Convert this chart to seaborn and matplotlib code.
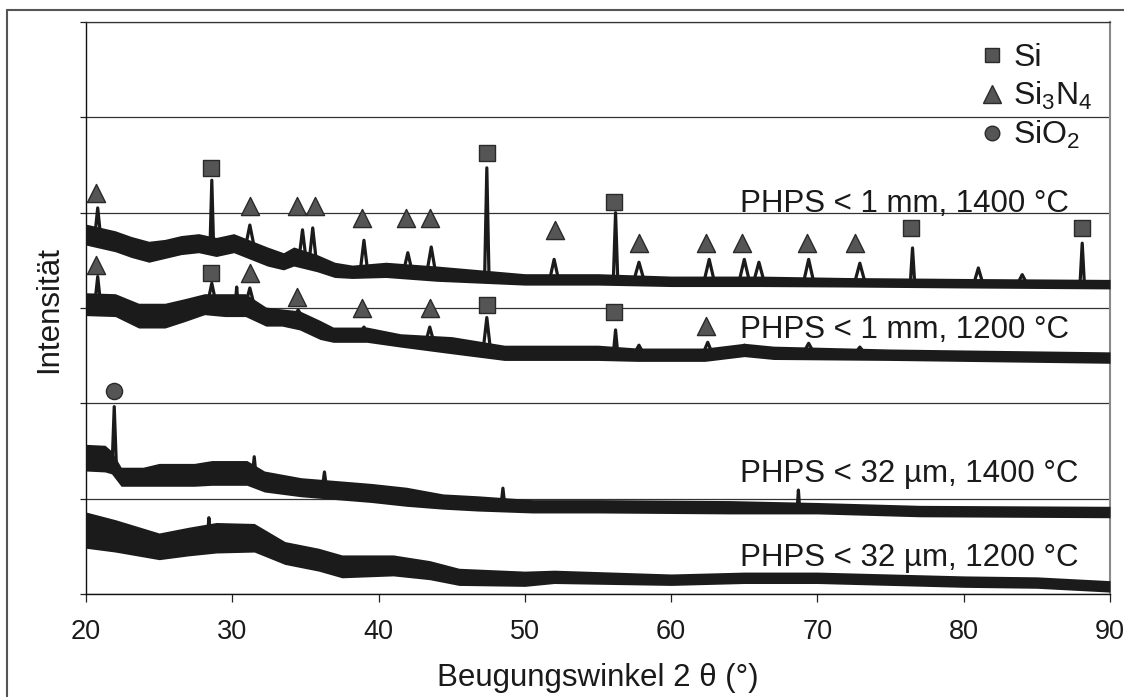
import numpy as np
import pandas as pd
import matplotlib
matplotlib.use("Agg")
import matplotlib.pyplot as plt
from matplotlib.lines import Line2D
import seaborn as sns

# ---------------- data ----------------
# y axis: arbitrary intensity units, gridlines at each integer (0..6)
x_ticks = [20, 30, 40, 50, 60, 70, 80, 90]

# baselines (centre of the noise band) and half-width of the noise band
t1_x = [20, 22, 23.1, 24.3, 25.4, 26.5, 27.7, 28.9, 30.1, 32.4, 33.5, 34.2, 35.8, 37, 38.2, 40.5, 44, 47, 50, 55, 60, 66, 72, 80, 90]
t1_y = [3.77, 3.70, 3.64, 3.59, 3.62, 3.66, 3.68, 3.64, 3.68, 3.54, 3.49, 3.54, 3.47, 3.40, 3.38, 3.40, 3.36, 3.33, 3.30, 3.30, 3.28, 3.28, 3.27, 3.26, 3.25]
t1_h = [0.11, 0.11, 0.11, 0.11, 0.10, 0.10, 0.10, 0.10, 0.10, 0.10, 0.09, 0.10, 0.09, 0.08, 0.07, 0.08, 0.08, 0.07, 0.06, 0.06, 0.055, 0.055, 0.05, 0.05, 0.05]

t2_x = [20, 22, 23.6, 25.4, 26.8, 28.1, 29.5, 30.9, 32.3, 33.4, 34.6, 36, 36.9, 39.2, 41.5, 45, 48.6, 55, 57.7, 62.3, 65, 67, 75, 90]
t2_y = [3.04, 3.03, 2.92, 2.92, 2.98, 3.04, 3.03, 3.03, 2.91, 2.90, 2.87, 2.77, 2.72, 2.72, 2.66, 2.61, 2.53, 2.53, 2.51, 2.51, 2.56, 2.53, 2.51, 2.48]
t2_h = [0.12, 0.12, 0.13, 0.13, 0.12, 0.11, 0.12, 0.12, 0.10, 0.09, 0.10, 0.10, 0.08, 0.08, 0.07, 0.09, 0.08, 0.08, 0.07, 0.07, 0.07, 0.07, 0.06, 0.06]

t3_x = [20, 21.3, 21.75, 22.4, 23.9, 25, 27.4, 28.6, 31, 32.2, 34.7, 37.1, 39.5, 41.9, 44.4, 46.8, 50.5, 55, 64, 70, 77, 90]
t3_y = [1.43, 1.42, 1.38, 1.23, 1.23, 1.25, 1.25, 1.27, 1.27, 1.18, 1.12, 1.09, 1.06, 1.02, 0.97, 0.95, 0.92, 0.92, 0.91, 0.90, 0.87, 0.86]
t3_h = [0.14, 0.14, 0.12, 0.10, 0.10, 0.12, 0.12, 0.13, 0.13, 0.11, 0.10, 0.10, 0.10, 0.10, 0.08, 0.08, 0.07, 0.07, 0.07, 0.06, 0.06, 0.06]

t4_x = [20, 22, 25, 27, 28.9, 31.5, 33.6, 35.9, 37.5, 41, 43.5, 45.5, 50, 52, 60, 65, 70, 75, 80, 85, 90]
t4_y = [0.67, 0.61, 0.50, 0.55, 0.59, 0.59, 0.43, 0.36, 0.29, 0.30, 0.25, 0.18, 0.16, 0.18, 0.15, 0.17, 0.17, 0.15, 0.13, 0.12, 0.08]
t4_h = [0.19, 0.17, 0.14, 0.15, 0.16, 0.15, 0.12, 0.12, 0.12, 0.11, 0.10, 0.09, 0.08, 0.07, 0.06, 0.06, 0.06, 0.06, 0.06, 0.06, 0.06]

# reflections drawn on each trace: position, top, foot level, half-width of foot
p1_x = [20.8, 28.6, 31.2, 34.8, 35.5, 39.0, 42.0, 43.6, 47.4, 52.0, 56.2, 57.8, 62.6, 65.0, 66.0, 69.4, 72.9, 76.5, 81.0, 84.0, 88.1]
p1_top = [4.05, 4.34, 3.87, 3.82, 3.84, 3.71, 3.58, 3.64, 4.47, 3.51, 4.00, 3.48, 3.51, 3.51, 3.48, 3.51, 3.47, 3.63, 3.42, 3.35, 3.68]
p1_base = [3.75, 3.66, 3.64, 3.50, 3.48, 3.39, 3.38, 3.37, 3.32, 3.30, 3.30, 3.29, 3.28, 3.28, 3.28, 3.27, 3.27, 3.26, 3.26, 3.26, 3.25]
p1_w = [0.2, 0.12, 0.3, 0.25, 0.25, 0.25, 0.3, 0.3, 0.15, 0.3, 0.15, 0.35, 0.35, 0.35, 0.35, 0.35, 0.35, 0.15, 0.3, 0.3, 0.15]

p2_x = [20.8, 28.6, 30.3, 31.2, 34.5, 39.0, 43.5, 47.4, 56.2, 57.8, 62.5, 65.0, 69.4, 72.9]
p2_top = [3.33, 3.26, 3.22, 3.21, 2.98, 2.80, 2.80, 2.90, 2.77, 2.61, 2.64, 2.61, 2.63, 2.59]
p2_base = [3.04, 3.04, 3.03, 3.03, 2.87, 2.72, 2.63, 2.56, 2.52, 2.51, 2.51, 2.56, 2.53, 2.52]
p2_w = [0.2, 0.3, 0.1, 0.3, 0.4, 0.35, 0.3, 0.25, 0.15, 0.35, 0.35, 0.35, 0.35, 0.35]

p3_x = [21.93, 31.5, 36.3, 48.5, 68.7]
p3_top = [1.965, 1.44, 1.28, 1.11, 1.09]
p3_base = [1.33, 1.25, 1.10, 0.94, 0.90]
p3_w = [0.15, 0.12, 0.15, 0.12, 0.08]

p4_x = [28.4]
p4_top = [0.80]
p4_base = [0.59]
p4_w = [0.1]

# phase markers
si_x = [28.55, 47.4, 56.1, 76.4, 88.1, 28.55, 47.4, 56.1]
si_y = [4.47, 4.63, 4.11, 3.84, 3.84, 3.37, 3.03, 2.96]
sn_x = [20.7, 31.2, 34.4, 35.65, 38.9, 41.9, 43.5, 52.05, 57.8, 62.4, 64.85, 69.3, 72.6,
        20.7, 31.2, 34.4, 38.9, 43.5, 62.4]
sn_y = [4.21, 4.07, 4.07, 4.07, 3.94, 3.94, 3.94, 3.82, 3.68, 3.68, 3.68, 3.68, 3.68,
        3.45, 3.37, 3.12, 3.00, 3.00, 2.81]
so_x = [21.93]
so_y = [2.13]

labels = ["PHPS < 1 mm, 1400 °C", "PHPS < 1 mm, 1200 °C",
          "PHPS < 32 µm, 1400 °C", "PHPS < 32 µm, 1200 °C"]
label_x = [64.7, 64.7, 64.7, 64.7]
label_y = [4.01, 2.69, 1.18, 0.29]
legend_labels = ["Si", "Si$_3$N$_4$", "SiO$_2$"]

# ---------------- style ----------------
sns.set_style("white")
plt.rcParams["font.family"] = ["Liberation Sans", "DejaVu Sans"]
plt.rcParams["mathtext.default"] = "regular"

W, H = 1124, 697
fig = plt.figure(figsize=(W / 100, H / 100), dpi=100)
ax = fig.add_axes([86 / W, 1 - 594 / H, 1024 / W, 572 / H])

TRACE = "#1b1b1b"
MFC = "#555555"
MEC = "#2a2a2a"
TXT = "#1a1a1a"

traces = [(t1_x, t1_y, t1_h), (t2_x, t2_y, t2_h), (t3_x, t3_y, t3_h), (t4_x, t4_y, t4_h)]
for bx, by, bh in traces:
    bx = np.array(bx); by = np.array(by); bh = np.array(bh)
    ax.fill_between(bx, by - bh, by + bh, color=TRACE, lw=0, zorder=3)
    sns.lineplot(x=bx, y=by, ax=ax, color=TRACE, lw=1.0, zorder=3)

rows = []
pid = 0
for px_, pt_, pb_, pw_ in [(p1_x, p1_top, p1_base, p1_w), (p2_x, p2_top, p2_base, p2_w),
                           (p3_x, p3_top, p3_base, p3_w), (p4_x, p4_top, p4_base, p4_w)]:
    for x0, top, base, w in zip(px_, pt_, pb_, pw_):
        rows += [(pid, x0 - w, base), (pid, x0, top), (pid, x0 + w, base)]
        pid += 1
peaks = pd.DataFrame(rows, columns=["pid", "x", "y"])
sns.lineplot(data=peaks, x="x", y="y", units="pid", estimator=None, sort=False,
             ax=ax, color=TRACE, lw=2.3, zorder=4)

sns.scatterplot(x=si_x, y=si_y, ax=ax, marker="s", s=120, color=MFC, edgecolor=MEC, linewidth=1.0, zorder=5)
sns.scatterplot(x=sn_x, y=sn_y, ax=ax, marker="^", s=170, color=MFC, edgecolor=MEC, linewidth=1.0, zorder=5)
sns.scatterplot(x=so_x, y=so_y, ax=ax, marker="o", s=135, color=MFC, edgecolor=MEC, linewidth=1.0, zorder=5)

for lx, ly, lt in zip(label_x, label_y, labels):
    ax.text(lx, ly, lt, fontsize=22.5, ha="left", va="baseline", color=TXT, zorder=6)

handles = [
    Line2D([], [], ls="", marker="s", ms=10.5, mfc=MFC, mec=MEC, mew=1.0),
    Line2D([], [], ls="", marker="^", ms=13, mfc=MFC, mec=MEC, mew=1.0),
    Line2D([], [], ls="", marker="o", ms=10.5, mfc=MFC, mec=MEC, mew=1.0),
]
ax.legend(handles, legend_labels, loc="upper right", bbox_to_anchor=(0.983, 0.963),
          frameon=False, fontsize=23, borderpad=0, borderaxespad=0,
          handlelength=0.75, handletextpad=0.3, labelspacing=0.22, labelcolor=TXT)

# axes
ax.set_xlim(20, 90)
ax.set_ylim(0, 6)
ax.set_xticks(x_ticks)
ax.set_xticklabels([str(t) for t in x_ticks])
ax.set_yticks(range(7))
ax.set_yticklabels([])
ax.grid(axis="y", color="#333333", lw=0.9)
ax.grid(axis="x", visible=False)
ax.tick_params(axis="x", direction="out", length=6, width=0.9, color="#222222",
               labelsize=19.5, pad=12, labelcolor=TXT, bottom=True)
ax.tick_params(axis="y", direction="out", length=4.5, width=0.9, color="#222222", left=True)
for side in ["left", "bottom"]:
    ax.spines[side].set_color("#111111")
    ax.spines[side].set_linewidth(1.0)
ax.spines["top"].set_color("#333333")
ax.spines["top"].set_linewidth(0.9)
ax.spines["right"].set_color("#8a8a8a")
ax.spines["right"].set_linewidth(1.5)

ax.set_xlabel("Beugungswinkel 2 θ (°)", fontsize=22.5, color=TXT)
ax.xaxis.label.set_va("baseline")
ax.xaxis.set_label_coords(0.5, -(686 - 594) / 572)
ax.set_ylabel("Intensität", fontsize=22.5, color=TXT)
ax.yaxis.label.set_va("baseline")
ax.yaxis.set_label_coords(-(86 - 57) / 1024, 0.497)

# outer frame of the figure
fig.add_artist(Line2D([7 / W, 7 / W], [0, 1 - 10 / H], transform=fig.transFigure, color="#555555", lw=1.5))
fig.add_artist(Line2D([7 / W, 1], [1 - 10 / H, 1 - 10 / H], transform=fig.transFigure, color="#555555", lw=1.5))

fig.savefig("out.png", dpi=100)
